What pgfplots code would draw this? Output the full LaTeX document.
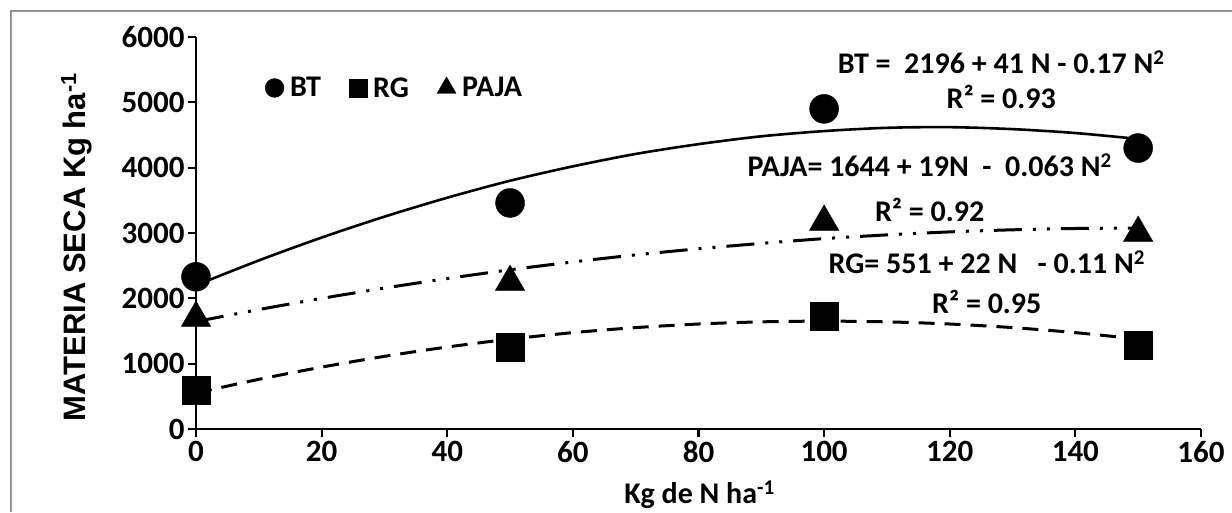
\documentclass[border=0pt]{standalone}
\usepackage{fontspec}
\setmainfont{Carlito}
\newfontfamily\labelfont{Liberation Sans}
\usepackage{pgfplots}
\pgfplotsset{compat=1.18}

\begin{document}
\begin{tikzpicture}
  \begin{axis}[
    at={(196pt,83pt)}, anchor=south west,
    scale only axis,
    width=1005pt, height=392pt,
    xmin=0, xmax=160,
    ymin=0, ymax=6000,
    xtick={0,20,...,160},
    ytick={0,1000,...,6000},
    axis lines=left,
    axis line style={-, line width=2.6pt},
    tick style={line width=2.2pt, black},
    tick align=outside,
    major tick length=8pt,
    clip=false,
    /pgf/number format/assume math mode=true,
    /pgf/number format/set thousands separator={},
    tick label style={font=\bfseries\fontsize{31}{33}\selectfont},
    xticklabel style={yshift=-1pt},
    xlabel={\bfseries\fontsize{30}{32}\selectfont Kg de N ha\textsuperscript{-1}},
    xlabel style={at={(axis description cs:0.501,-0.168)}, anchor=center},
    ylabel={\labelfont\bfseries\fontsize{31}{33}\selectfont MATERIA SECA Kg ha\textsuperscript{-1}},
    ylabel style={at={(axis description cs:-0.119,0.464)}, anchor=center},
    legend columns=3,
    legend style={draw=none, fill=none, at={(axis cs:10.5,5220)}, anchor=west,
      font=\bfseries\fontsize{30}{32}\selectfont,
      column sep=0pt,
      /tikz/every odd column/.append style={column sep=4pt},
      /tikz/every even column/.append style={column sep=26pt}},
    legend image post style={scale=0.65},
    legend cell align=left,
  ]
    % trend lines
    \addplot[forget plot, black, line width=2.6pt, smooth] coordinates {
      (0,2200)(10,2580)(20,2930)(30,3250)(40,3540)(50,3800)(60,4020)(70,4210)
      (80,4360)(90,4480)(100,4560)(110,4610)(120,4620)(130,4590)(140,4530)(150,4440)
    };
    \addplot[forget plot, black, line width=3pt, smooth,
      dash pattern=on 28pt off 11pt on 3pt off 11pt on 3pt off 11pt] coordinates {
      (0,1644)(10,1828)(20,1999)(30,2157)(40,2303)(50,2437)(60,2557)(70,2665)
      (80,2759)(90,2841)(100,2914)(110,2971)(120,3017)(130,3049)(140,3069)(150,3076)
    };
    \addplot[forget plot, black, line width=3pt, smooth,
      dash pattern=on 16pt off 10pt] coordinates {
      (0,551)(10,760)(20,947)(30,1112)(40,1255)(50,1376)(60,1475)(70,1552)
      (80,1607)(90,1640)(100,1651)(110,1640)(120,1607)(130,1552)(140,1475)(150,1376)
    };
    % measured values
    \addplot[only marks, mark=*, mark size=14.5pt, black] coordinates {
      (0,2330)(50,3460)(100,4900)(150,4300)
    };
    \addplot[only marks, mark=square*, mark size=14pt, black,
      mark options={rounded corners=1pt}] coordinates {
      (0,600)(50,1255)(100,1730)(150,1280)
    };
    \addplot[only marks, mark=triangle*, mark size=17pt, black] coordinates {
      (0,1700)(50,2250)(100,3170)(150,3000)
    };
    \legend{BT, RG, PAJA}

    \begin{scope}[every node/.style={font=\bfseries\fontsize{30}{32}\selectfont}]
      \node at (axis cs:128.2,5618) {BT =\ \ 2196 + 41 N - 0.17 N\textsuperscript{2}};
      \node at (axis cs:128.2,5082) {R² = 0.93};
      \node at (axis cs:116.8,4041) {PAJA= 1644 + 19N\ \ -\ \ 0.063 N\textsuperscript{2}};
      \node at (axis cs:116.8,3352) {R² = 0.92};
      \node at (axis cs:125.9,2556) {RG= 551 + 22 N\ \ \ - 0.11 N\textsuperscript{2}};
      \node at (axis cs:125.9,1944) {R² = 0.95};
    \end{scope}
  \end{axis}
  \draw[line width=2pt, gray!85] (11pt,0pt) -- (11pt,501pt) -- (1232pt,501pt);
  \pgfresetboundingbox
  \useasboundingbox (0pt,0pt) rectangle (1232pt,512pt);
\end{tikzpicture}
\end{document}
